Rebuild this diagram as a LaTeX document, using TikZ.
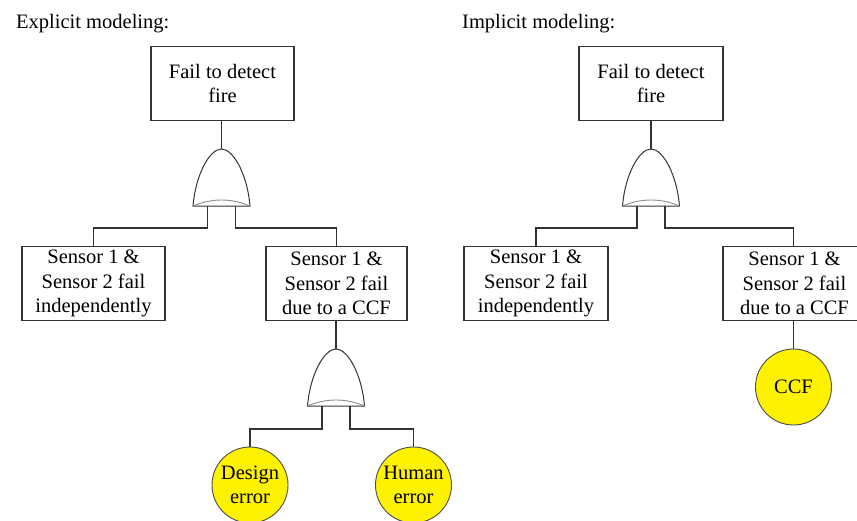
\documentclass[tikz,border=0pt]{standalone}
\usepackage{fontspec}
\setmainfont{Liberation Serif}
\begin{document}
\begin{tikzpicture}[x=1pt,y=-1pt,
  every node/.style={font=\fontsize{20.5}{24.5}\selectfont, align=center, inner sep=0pt},
  event/.style={draw=black!80, line width=1.2pt, fill=white, minimum height=74pt},
  basic/.style={circle, draw=black!70, line width=0.9pt, fill=yellow, minimum size=76pt},
  wire/.style={draw=black!80, line width=1.2pt},
  title/.style={anchor=base west},
  orgate/.pic={
    \coordinate (-top) at (0,0);
    \coordinate (-l) at (-14,57);
    \coordinate (-r) at (14,57);
    \draw[black!80, line width=1pt, fill=white]
      (-28.5,57) .. controls (-26,26) and (-12,0) .. (0,0)
      .. controls (12,0) and (26,26) .. (28.5,57) -- cycle;
    \draw[black!45, line width=0.9pt] (-28.5,57) .. controls (-10,49) and (10,49) .. (28.5,57);
  }]
\useasboundingbox (0,0) rectangle (857,520);
\clip (0,0) rectangle (857,520);

% Explicit modeling tree
\node[title] (tl) at (16,28) {Explicit modeling:};
\node[event, minimum width=143pt] (top1) at (222.5,83.5) {Fail to detect\\fire};
\pic (g1) at (221.5,149) {orgate};
\node[event, minimum width=143pt] (ind1) at (93.5,283.5) {Sensor 1 \&\\Sensor 2 fail\\independently};
\node[event, minimum width=141pt] (ccf1) at (336.5,283.5) {Sensor 1 \&\\Sensor 2 fail\\due to a CCF};
\pic (g2) at (336,349) {orgate};
\node[basic] (des) at (250,485) {Design\\error};
\node[basic] (hum) at (413.5,485) {Human\\error};

\draw[wire] (top1.south -| g1-top) -- (g1-top);
\draw[wire] (g1-l) |- (ind1.north |- 0,228) -- (ind1.north);
\draw[wire] (g1-r) |- (ccf1.north |- 0,228) -- (ccf1.north);
\draw[wire] (ccf1.south -| g2-top) -- (g2-top);
\draw[wire] (g2-l) |- (des.north |- 0,429) -- (des.north);
\draw[wire] (g2-r) |- (hum.north |- 0,429) -- (hum.north);

% Implicit modeling tree
\node[title] (tr) at (462,28) {Implicit modeling:};
\node[event, minimum width=144pt] (top2) at (651,83.5) {Fail to detect\\fire};
\pic (g3) at (651,149) {orgate};
\node[event, minimum width=144pt] (ind2) at (536,283.5) {Sensor 1 \&\\Sensor 2 fail\\independently};
\node[event, minimum width=143pt] (ccf2) at (794.5,283.5) {Sensor 1 \&\\Sensor 2 fail\\due to a CCF};
\node[basic] (ccf) at (793.5,387) {CCF};

\draw[wire] (top2.south -| g3-top) -- (g3-top);
\draw[wire] (g3-l) |- (ind2.north |- 0,228) -- (ind2.north);
\draw[wire] (g3-r) |- (793.5,228) coordinate (k) -- (k |- ccf2.north);
\draw[wire] (ccf2.south -| ccf.north) -- (ccf.north);
\end{tikzpicture}
\end{document}
